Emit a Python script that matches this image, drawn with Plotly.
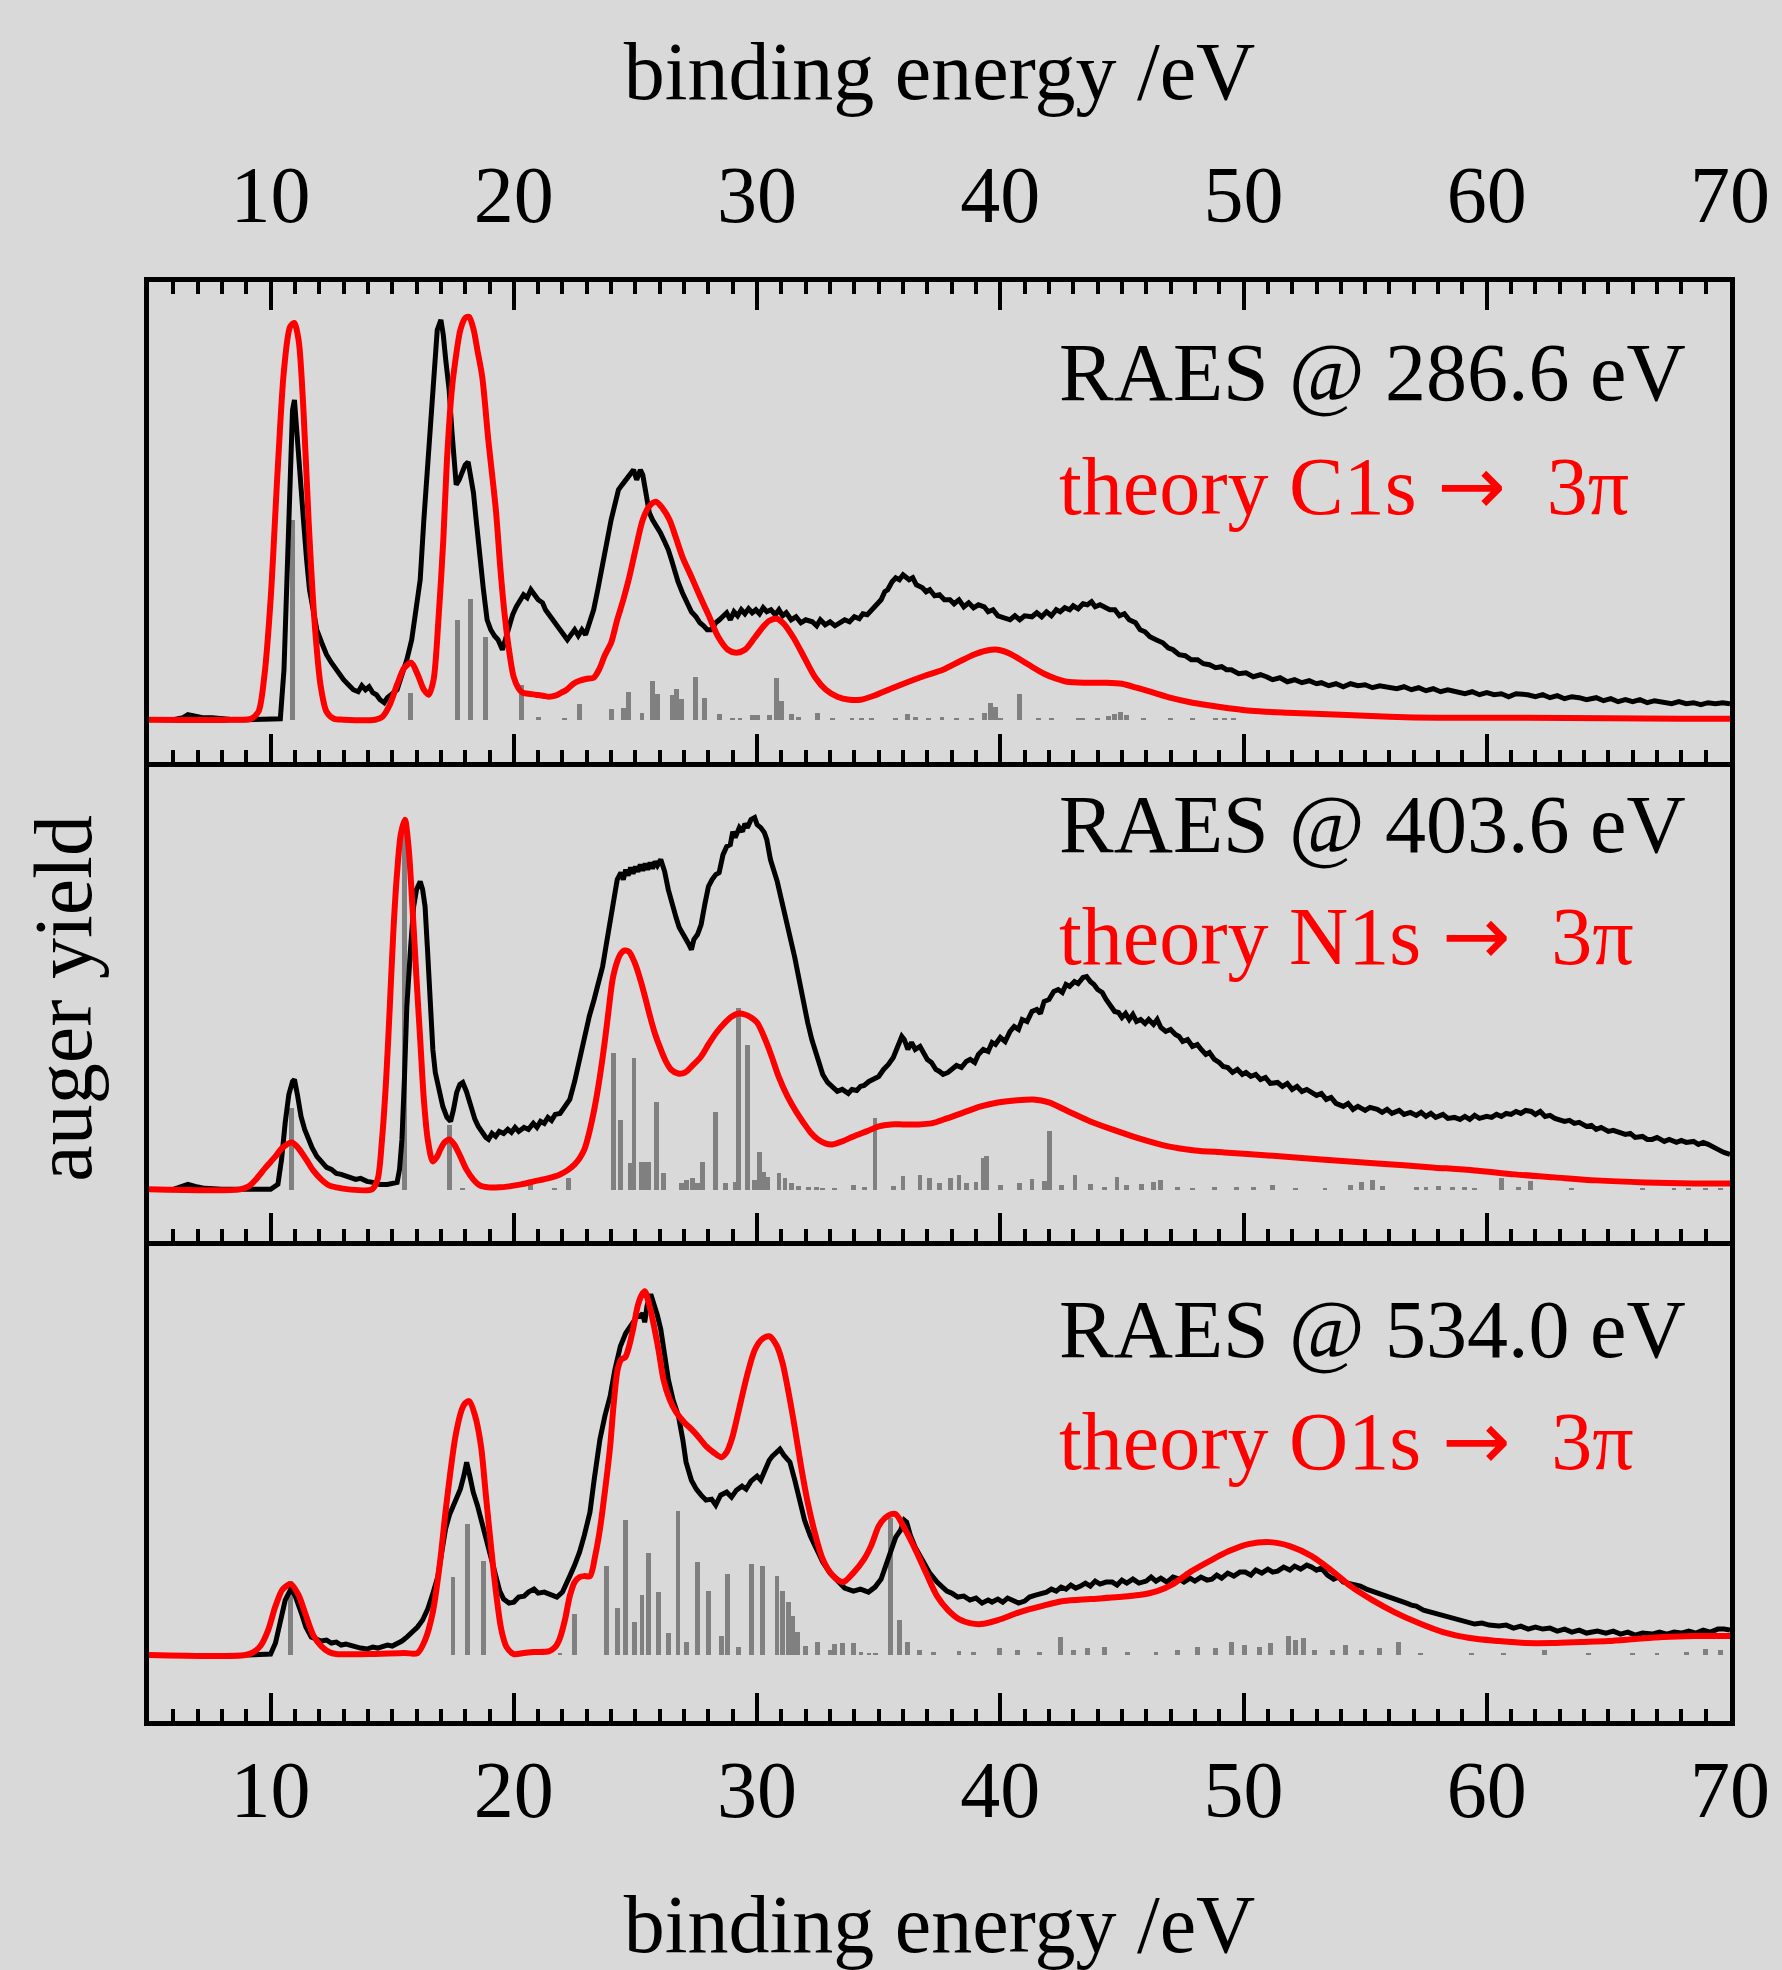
import plotly.graph_objects as go

# ---------------- data (binding energy in eV, intensity in arb. units) ----------------
# Experimental RAES spectra (black)
exp_C = [(6.0,0.0),(6.4,0.002),(6.6,0.005),(6.9,0.003),(7.2,0.002),(7.6,0.002),(8.0,0.001),(8.5,0.0),(9.0,0.0),(9.5,0.0),(10.0,0.0),(10.4,0.001),
 (10.55,0.05),(10.7,0.15),(10.8,0.24),(10.9,0.31),(10.98,0.32),(11.05,0.30),(11.15,0.27),(11.25,0.24),(11.35,0.20),(11.48,0.16),(11.6,0.13),
 (11.75,0.11),(11.9,0.09),(12.1,0.077),(12.3,0.065),(12.5,0.057),(12.7,0.05),(12.85,0.045),(13.0,0.04),(13.2,0.035),(13.4,0.03),(13.6,0.028),
 (13.75,0.034),(13.9,0.03),(14.05,0.033),(14.2,0.027),(14.35,0.025),(14.5,0.02),(14.67,0.017),(14.8,0.022),(15.0,0.026),(15.2,0.03),(15.4,0.045),
 (15.6,0.06),(15.8,0.08),(16.0,0.11),(16.15,0.14),(16.3,0.2),(16.42,0.24),(16.55,0.3),(16.7,0.35),(16.85,0.39),(17.0,0.40),(17.1,0.385),(17.2,0.36),
 (17.34,0.33),(17.45,0.29),(17.55,0.25),(17.63,0.235),(17.75,0.24),(17.88,0.248),(18.0,0.255),(18.12,0.258),(18.22,0.245),(18.34,0.227),(18.45,0.2),
 (18.6,0.16),(18.75,0.13),(18.9,0.10),(19.05,0.09),(19.2,0.084),(19.35,0.08),(19.53,0.07),(19.65,0.08),(19.8,0.09),(19.95,0.105),(20.1,0.113),
 (20.25,0.12),(20.4,0.125),(20.55,0.122),(20.7,0.13),(20.85,0.125),(21.0,0.12),(21.18,0.117),(21.3,0.11),(21.45,0.105),(21.6,0.1),(21.75,0.095),
 (21.9,0.088),(22.05,0.085),(22.2,0.08),(22.35,0.085),(22.5,0.09),(22.65,0.084),(22.8,0.09),(22.95,0.085),(23.1,0.095),(23.28,0.11),(23.45,0.13),
 (23.6,0.15),(23.83,0.18),(24.0,0.2),(24.15,0.215),(24.3,0.23),(24.45,0.235),(24.6,0.24),(24.75,0.245),(24.92,0.25),(25.05,0.24),(25.2,0.25),
 (25.3,0.245),(25.45,0.22),(25.57,0.207),(25.7,0.2),(25.85,0.195),(26.03,0.187),(26.2,0.178),(26.35,0.17),(26.48,0.16),(26.6,0.15),(26.75,0.138),
 (26.93,0.127),(27.1,0.118),(27.3,0.108),(27.49,0.103),(27.65,0.097),(27.8,0.094),(27.95,0.09),(28.11,0.09),(28.3,0.097),(28.45,0.1),(28.6,0.103),
 (28.75,0.107),(28.9,0.1),(29.05,0.108),(29.2,0.104),(29.35,0.11),(29.5,0.106),(29.65,0.111),(29.8,0.107),(29.95,0.11),(30.1,0.106),(30.25,0.112),
 (30.4,0.108),(30.57,0.11),(30.75,0.105),(30.9,0.11),(31.05,0.104),(31.2,0.107),(31.4,0.1),(31.6,0.103),(31.8,0.097),(32.0,0.1),(32.27,0.098),
 (32.45,0.094),(32.6,0.1),(32.8,0.095),(33.0,0.098),(33.2,0.094),(33.4,0.097),(33.6,0.1),(33.8,0.098),(34.0,0.103),(34.2,0.101),(34.35,0.106),
 (34.53,0.105),(34.7,0.11),(34.9,0.115),(35.1,0.12),(35.25,0.128),(35.37,0.13),(35.55,0.138),(35.7,0.142),(35.85,0.14),(36.0,0.145),(36.1,0.143),
 (36.25,0.14),(36.4,0.142),(36.55,0.135),(36.8,0.132),(36.95,0.128),(37.1,0.13),(37.3,0.124),(37.5,0.125),(37.7,0.12),(37.93,0.12),(38.1,0.116),
 (38.3,0.12),(38.5,0.113),(38.7,0.117),(38.9,0.112),(39.1,0.115),(39.34,0.113),(39.5,0.108),(39.7,0.11),(39.9,0.104),(40.19,0.102),(40.4,0.1),
 (40.6,0.104),(40.8,0.1),(41.0,0.104),(41.3,0.103),(41.5,0.107),(41.7,0.103),(41.9,0.108),(42.1,0.104),(42.3,0.11),(42.46,0.108),(42.65,0.112),
 (42.85,0.11),(43.0,0.114),(43.2,0.111),(43.4,0.116),(43.58,0.115),(43.75,0.118),(43.9,0.113),(44.1,0.115),(44.3,0.112),(44.5,0.11),(44.71,0.11),
 (44.9,0.104),(45.1,0.106),(45.3,0.1),(45.56,0.097),(45.75,0.09),(45.95,0.088),(46.15,0.083),(46.4,0.08),(46.68,0.077),(46.9,0.072),(47.1,0.07),
 (47.35,0.065),(47.6,0.064),(47.85,0.06),(48.11,0.06),(48.35,0.056),(48.6,0.055),(48.85,0.052),(49.1,0.053),(49.3,0.05),(49.5,0.05),(49.8,0.046),
 (50.1,0.047),(50.4,0.043),(50.7,0.045),(50.94,0.043),(51.2,0.04),(51.5,0.042),(51.8,0.038),(52.1,0.04),(52.4,0.037),(52.7,0.039),(53.0,0.036),
 (53.2,0.037),(53.5,0.034),(53.8,0.036),(54.1,0.033),(54.4,0.036),(54.7,0.034),(55.0,0.035),(55.3,0.032),(55.6,0.034),(56.0,0.033),(56.3,0.031),
 (56.6,0.033),(56.9,0.03),(57.2,0.032),(57.5,0.029),(57.8,0.031),(58.1,0.028),(58.4,0.03),(58.85,0.028),(59.1,0.026),(59.4,0.028),(59.7,0.025),
 (60.0,0.027),(60.3,0.025),(60.6,0.026),(60.9,0.023),(61.2,0.026),(61.68,0.025),(62.0,0.023),(62.3,0.025),(62.6,0.022),(62.9,0.024),(63.2,0.021),
 (63.5,0.023),(63.8,0.022),(64.1,0.02),(64.5,0.022),(64.8,0.019),(65.1,0.021),(65.4,0.018),(65.7,0.02),(66.0,0.018),(66.3,0.02),(66.6,0.017),
 (66.9,0.019),(67.3,0.018),(67.6,0.016),(67.9,0.018),(68.2,0.016),(68.5,0.017),(68.8,0.015),(69.1,0.017),(69.4,0.016),(69.7,0.017),(70.0,0.016)]

exp_N = [(6.0,0.0),(6.3,0.002),(6.6,0.005),(6.9,0.003),(7.3,0.001),(8.0,0.0),(9.0,0.0),(10.0,0.0),(10.3,0.005),(10.45,0.03),(10.6,0.067),
 (10.75,0.095),(10.9,0.108),(10.98,0.11),(11.1,0.095),(11.25,0.073),(11.4,0.06),(11.56,0.05),(11.7,0.042),(11.9,0.033),(12.1,0.028),(12.3,0.022),
 (12.5,0.02),(12.7,0.016),(12.9,0.015),(13.1,0.013),(13.3,0.012),(13.5,0.01),(13.7,0.011),(13.96,0.008),(14.2,0.007),(14.5,0.005),(14.8,0.005),
 (15.0,0.006),(15.2,0.007),(15.3,0.02),(15.4,0.05),(15.5,0.11),(15.6,0.183),(15.75,0.24),(15.88,0.283),(16.0,0.3),(16.15,0.308),(16.25,0.3),
 (16.35,0.283),(16.45,0.24),(16.56,0.183),(16.67,0.14),(16.77,0.117),(16.9,0.1),(17.08,0.083),(17.25,0.072),(17.4,0.068),(17.52,0.08),(17.65,0.097),
 (17.78,0.105),(17.9,0.107),(18.05,0.098),(18.23,0.083),(18.4,0.07),(18.54,0.063),(18.7,0.057),(18.85,0.052),(18.96,0.05),(19.1,0.056),(19.25,0.053),
 (19.4,0.058),(19.58,0.056),(19.75,0.06),(19.9,0.057),(20.05,0.062),(20.2,0.058),(20.42,0.062),(20.6,0.06),(20.8,0.066),(20.95,0.062),(21.1,0.068),
 (21.25,0.066),(21.4,0.072),(21.55,0.069),(21.7,0.075),(21.9,0.076),(22.1,0.082),(22.3,0.09),(22.5,0.108),(22.7,0.13),(22.9,0.15),(23.1,0.173),
 (23.3,0.19),(23.5,0.21),(23.65,0.223),(23.8,0.245),(23.96,0.267),(24.1,0.29),(24.25,0.31),(24.4,0.317),(24.5,0.31),(24.6,0.32),(24.7,0.314),
 (24.8,0.322),(24.9,0.316),(25.0,0.323),(25.1,0.318),(25.2,0.325),(25.3,0.319),(25.4,0.326),(25.5,0.32),(25.6,0.327),(25.7,0.321),(25.8,0.328),
 (25.9,0.324),(26.04,0.33),(26.2,0.318),(26.35,0.3),(26.5,0.285),(26.67,0.272),(26.8,0.262),(26.98,0.255),(27.1,0.25),(27.2,0.245),(27.3,0.24),
 (27.4,0.25),(27.55,0.255),(27.7,0.265),(27.85,0.285),(28.0,0.303),(28.15,0.31),(28.3,0.315),(28.44,0.317),(28.6,0.335),(28.75,0.343),(28.9,0.345),
 (29.0,0.358),(29.1,0.352),(29.27,0.362),(29.4,0.358),(29.5,0.366),(29.6,0.362),(29.75,0.37),(29.9,0.372),(30.0,0.365),(30.15,0.362),(30.3,0.357),
 (30.4,0.35),(30.55,0.33),(30.7,0.32),(30.83,0.308),(31.0,0.29),(31.1,0.28),(31.25,0.267),(31.4,0.25),(31.55,0.232),(31.67,0.217),(31.85,0.192),
 (32.0,0.175),(32.08,0.167),(32.25,0.15),(32.5,0.13),(32.7,0.115),(32.9,0.107),(33.1,0.102),(33.3,0.098),(33.5,0.1),(33.75,0.096),(33.9,0.1),
 (34.1,0.099),(34.25,0.103),(34.4,0.104),(34.6,0.108),(34.8,0.11),(35.0,0.113),(35.2,0.12),(35.4,0.125),(35.6,0.132),(35.8,0.143),(35.95,0.153),
 (36.05,0.15),(36.2,0.14),(36.35,0.147),(36.5,0.14),(36.7,0.143),(36.85,0.135),(37.0,0.13),(37.17,0.127),(37.35,0.12),(37.5,0.118),(37.65,0.115),
 (37.85,0.117),(38.0,0.12),(38.2,0.124),(38.4,0.122),(38.6,0.128),(38.76,0.13),(38.95,0.127),(39.1,0.135),(39.3,0.14),(39.5,0.138),(39.66,0.147),
 (39.8,0.145),(40.0,0.152),(40.2,0.148),(40.4,0.158),(40.57,0.163),(40.75,0.16),(40.9,0.17),(41.1,0.168),(41.3,0.178),(41.5,0.18),(41.65,0.176),
 (41.8,0.188),(42.0,0.19),(42.2,0.198),(42.38,0.2),(42.55,0.197),(42.7,0.205),(42.85,0.203),(43.05,0.208),(43.2,0.206),(43.4,0.212),(43.55,0.213),
 (43.7,0.208),(43.85,0.205),(44.0,0.2),(44.19,0.197),(44.35,0.19),(44.5,0.185),(44.7,0.178),(44.86,0.177),(45.0,0.172),(45.15,0.176),(45.3,0.17),
 (45.45,0.175),(45.6,0.168),(45.77,0.17),(45.95,0.166),(46.1,0.17),(46.3,0.165),(46.45,0.17),(46.6,0.162),(46.8,0.158),(47.0,0.16),(47.2,0.155),
 (47.35,0.153),(47.5,0.148),(47.7,0.15),(47.9,0.143),(48.1,0.145),(48.26,0.14),(48.45,0.135),(48.6,0.137),(48.8,0.13),(49.0,0.127),(49.16,0.123),
 (49.35,0.122),(49.55,0.117),(49.75,0.12),(49.95,0.115),(50.1,0.117),(50.3,0.113),(50.5,0.115),(50.7,0.11),(50.9,0.112),(51.1,0.106),(51.4,0.107),
 (51.6,0.103),(51.8,0.106),(52.0,0.1),(52.2,0.103),(52.4,0.098),(52.6,0.1),(52.8,0.097),(53.0,0.094),(53.2,0.096),(53.4,0.09),(53.6,0.092),
 (53.8,0.086),(54.1,0.083),(54.3,0.086),(54.5,0.08),(54.7,0.083),(55.0,0.079),(55.2,0.082),(55.5,0.08),(55.7,0.077),(55.9,0.08),(56.1,0.076),
 (56.4,0.079),(56.6,0.075),(56.86,0.077),(57.1,0.074),(57.3,0.077),(57.5,0.073),(57.7,0.076),(57.9,0.072),(58.2,0.075),(58.4,0.071),(58.67,0.072),
 (58.9,0.07),(59.1,0.073),(59.3,0.07),(59.5,0.074),(59.7,0.071),(60.0,0.073),(60.2,0.072),(60.4,0.075),(60.6,0.073),(60.8,0.076),(61.0,0.075),
 (61.2,0.078),(61.4,0.076),(61.6,0.079),(61.83,0.078),(62.0,0.075),(62.2,0.078),(62.4,0.073),(62.6,0.074),(62.8,0.071),(62.96,0.07),(63.2,0.068),
 (63.4,0.069),(63.6,0.066),(63.8,0.067),(64.1,0.063),(64.3,0.064),(64.5,0.06),(64.7,0.062),(65.0,0.058),(65.2,0.059),(65.45,0.057),(65.7,0.055),
 (65.9,0.056),(66.1,0.052),(66.4,0.053),(66.6,0.05),(66.8,0.05),(67.0,0.052),(67.3,0.048),(67.5,0.05),(67.8,0.047),(68.0,0.049),(68.2,0.047),
 (68.5,0.048),(68.7,0.045),(68.9,0.047),(69.1,0.045),(69.3,0.043),(69.5,0.04),(69.75,0.037),(70.0,0.035)]

exp_O = [(9.0,0.0),(9.5,0.0),(10.0,0.001),(10.2,0.012),(10.4,0.033),(10.6,0.055),(10.83,0.066),(11.0,0.06),(11.25,0.043),(11.45,0.028),
 (11.67,0.018),(11.85,0.016),(12.08,0.014),(12.3,0.015),(12.5,0.012),(12.7,0.013),(12.9,0.01),(13.1,0.011),(13.33,0.009),(13.5,0.008),(13.7,0.007),
 (13.96,0.006),(14.2,0.008),(14.4,0.007),(14.58,0.008),(14.8,0.01),(15.0,0.009),(15.2,0.011),(15.4,0.014),(15.6,0.018),(15.8,0.022),(16.04,0.028),
 (16.25,0.035),(16.46,0.046),(16.65,0.06),(16.88,0.079),(17.05,0.105),(17.19,0.126),(17.35,0.14),(17.5,0.149),(17.65,0.158),(17.8,0.166),
 (17.95,0.18),(18.06,0.193),(18.2,0.178),(18.33,0.163),(18.5,0.15),(18.65,0.136),(18.8,0.122),(18.96,0.109),(19.1,0.092),(19.27,0.076),(19.42,0.064),
 (19.58,0.056),(19.8,0.052),(20.0,0.053),(20.2,0.058),(20.42,0.059),(20.6,0.063),(20.83,0.066),(21.0,0.062),(21.25,0.063),(21.5,0.06),(21.77,0.058),
 (22.0,0.063),(22.15,0.07),(22.3,0.079),(22.5,0.09),(22.7,0.103),(22.9,0.12),(23.13,0.143),(23.3,0.175),(23.54,0.216),(23.75,0.24),(23.96,0.259),
 (24.15,0.285),(24.38,0.309),(24.6,0.322),(24.8,0.329),(25.0,0.335),(25.1,0.34),(25.2,0.339),(25.3,0.342),(25.38,0.333),(25.48,0.35),(25.63,0.361),
 (25.75,0.352),(25.9,0.34),(26.04,0.326),(26.2,0.3),(26.35,0.276),(26.55,0.255),(26.77,0.239),(26.95,0.215),(27.08,0.193),(27.3,0.175),(27.5,0.166),
 (27.7,0.16),(27.9,0.155),(28.13,0.156),(28.3,0.15),(28.5,0.16),(28.75,0.163),(28.95,0.158),(29.15,0.165),(29.38,0.169),(29.55,0.166),(29.75,0.174),
 (30.0,0.179),(30.15,0.175),(30.35,0.188),(30.5,0.195),(30.63,0.199),(30.8,0.203),(30.94,0.206),(31.1,0.2),(31.2,0.197),(31.35,0.193),(31.55,0.175),
 (31.77,0.153),(31.95,0.135),(32.19,0.119),(32.45,0.105),(32.7,0.093),(33.0,0.082),(33.33,0.073),(33.6,0.067),(33.96,0.064),(34.25,0.066),
 (34.58,0.063),(34.85,0.068),(35.1,0.076),(35.3,0.09),(35.52,0.109),(35.7,0.118),(35.9,0.125),(36.05,0.135),(36.15,0.133),(36.3,0.12),(36.5,0.108),
 (36.7,0.099),(36.9,0.09),(37.1,0.082),(37.4,0.073),(37.6,0.068),(37.8,0.064),(38.0,0.062),(38.25,0.058),(38.5,0.059),(38.75,0.055),(39.0,0.057),
 (39.25,0.052),(39.5,0.055),(39.66,0.053),(39.9,0.056),(40.1,0.053),(40.3,0.057),(40.5,0.055),(40.75,0.052),(41.0,0.054),(41.2,0.058),(41.45,0.06),
 (41.7,0.062),(41.9,0.063),(42.1,0.066),(42.3,0.064),(42.5,0.068),(42.7,0.066),(42.9,0.07),(43.1,0.067),(43.3,0.069),(43.5,0.072),(43.7,0.069),
 (43.9,0.074),(44.1,0.071),(44.35,0.073),(44.6,0.073),(44.8,0.07),(45.0,0.075),(45.2,0.072),(45.45,0.076),(45.7,0.072),(46.0,0.074),(46.2,0.078),
 (46.4,0.074),(46.6,0.077),(46.85,0.073),(47.1,0.078),(47.35,0.076),(47.55,0.073),(47.8,0.077),(48.0,0.074),(48.25,0.078),(48.5,0.075),(48.7,0.076),
 (48.9,0.08),(49.1,0.077),(49.35,0.082),(49.6,0.079),(49.85,0.083),(50.07,0.083),(50.3,0.08),(50.5,0.085),(50.75,0.082),(51.0,0.086),(51.2,0.083),
 (51.4,0.084),(51.65,0.088),(51.9,0.085),(52.1,0.089),(52.35,0.086),(52.6,0.09),(52.8,0.088),(53.0,0.085),(53.2,0.087),(53.45,0.08),(53.7,0.076),
 (53.9,0.078),(54.1,0.073),(54.35,0.072),(54.6,0.07),(54.8,0.069),(55.05,0.066),(55.3,0.064),(55.5,0.062),(55.75,0.06),(55.95,0.059),(56.2,0.056),
 (56.45,0.054),(56.7,0.052),(56.9,0.05),(57.1,0.049),(57.4,0.045),(57.7,0.043),(58.0,0.04),(58.3,0.038),(58.67,0.036),(58.9,0.035),(59.2,0.033),
 (59.5,0.031),(59.8,0.032),(60.1,0.03),(60.5,0.029),(60.8,0.03),(61.1,0.027),(61.4,0.029),(61.7,0.026),(62.0,0.028),(62.3,0.026),(62.6,0.027),
 (62.9,0.024),(63.2,0.026),(63.5,0.023),(63.8,0.025),(64.1,0.022),(64.55,0.024),(64.9,0.022),(65.2,0.024),(65.5,0.021),(65.8,0.023),(66.1,0.02),
 (66.4,0.022),(66.8,0.021),(67.1,0.023),(67.4,0.021),(67.7,0.023),(68.0,0.022),(68.3,0.024),(68.6,0.022),(68.9,0.025),(69.2,0.023),(69.5,0.026),
 (69.75,0.026),(70.0,0.025)]

# Theory (red, broadened)
th_C = [(5.0,0.0),(8.5,0.0),(9.2,0.001),(9.5,0.008),(9.74,0.043),(10.0,0.12),(10.29,0.25),(10.55,0.35),(10.8,0.393),(10.97,0.397),(11.15,0.38),
 (11.35,0.31),(11.56,0.2),(11.8,0.1),(12.05,0.035),(12.3,0.008),(12.6,0.001),(13.0,0.0),(14.3,0.0),(14.6,0.003),(14.9,0.015),(15.2,0.035),(15.5,0.052),
 (15.78,0.057),(16.05,0.045),(16.3,0.03),(16.5,0.025),(16.7,0.04),(16.9,0.1),(17.1,0.18),(17.25,0.26),(17.45,0.33),(17.6,0.36),(17.8,0.39),
 (18.0,0.402),(18.16,0.403),(18.35,0.39),(18.5,0.37),(18.7,0.343),(18.95,0.28),(19.26,0.21),(19.45,0.15),(19.6,0.11),(19.8,0.07),(19.99,0.043),
 (20.2,0.031),(20.35,0.027),(20.6,0.026),(20.9,0.025),(21.2,0.024),(21.45,0.023),(21.7,0.024),(21.95,0.027),(22.17,0.03),(22.45,0.036),(22.7,0.039),
 (23.0,0.041),(23.28,0.042),(23.5,0.05),(23.75,0.065),(24.0,0.077),(24.25,0.1),(24.5,0.12),(24.75,0.143),(25.0,0.17),(25.3,0.2),(25.55,0.213),
 (25.84,0.218),(26.1,0.212),(26.4,0.2),(26.65,0.183),(26.93,0.163),(27.3,0.143),(27.66,0.123),(28.0,0.105),(28.4,0.083),(28.8,0.07),(29.14,0.067),
 (29.5,0.07),(29.9,0.082),(30.25,0.093),(30.5,0.099),(30.8,0.101),(31.1,0.096),(31.5,0.082),(31.99,0.06),(32.4,0.042),(32.83,0.03),(33.3,0.023),
 (33.8,0.02),(34.25,0.02),(34.8,0.024),(35.5,0.031),(36.23,0.038),(36.9,0.044),(37.64,0.05),(38.3,0.058),(38.9,0.065),(39.4,0.069),(39.9,0.07),
 (40.4,0.066),(40.9,0.059),(41.3,0.053),(41.8,0.046),(42.3,0.041),(42.74,0.038),(43.5,0.037),(44.3,0.037),(45.0,0.036),(45.6,0.032),(46.3,0.027),
 (46.97,0.022),(47.9,0.017),(48.96,0.013),(50.3,0.009),(51.8,0.007),(54.0,0.005),(56.0,0.003),(58.0,0.002),(61.7,0.002),(65.0,0.0015),(68.0,0.001),
 (70.0,0.001)]

th_N = [(5.0,0.0),(8.75,0.0),(9.1,0.003),(9.4,0.01),(9.8,0.022),(10.2,0.033),(10.5,0.042),(10.875,0.047),(11.15,0.041),(11.46,0.03),(11.75,0.019),
 (12.08,0.01),(12.4,0.004),(12.7,0.002),(13.2,0.0),(14.17,0.0),(14.4,0.01),(14.58,0.05),(14.75,0.11),(14.9,0.183),(15.05,0.26),(15.2,0.317),
 (15.35,0.355),(15.52,0.37),(15.68,0.34),(15.83,0.283),(16.0,0.21),(16.15,0.15),(16.3,0.09),(16.46,0.05),(16.67,0.028),(16.85,0.033),(16.98,0.04),
 (17.15,0.047),(17.35,0.05),(17.55,0.045),(17.8,0.033),(18.05,0.02),(18.33,0.01),(18.6,0.004),(18.96,0.002),(19.4,0.002),(19.8,0.003),(20.3,0.005),
 (20.83,0.008),(21.4,0.011),(21.9,0.015),(22.2,0.019),(22.5,0.025),(22.7,0.031),(22.9,0.04),(23.1,0.057),(23.33,0.083),(23.55,0.115),(23.75,0.15),
 (23.9,0.18),(24.06,0.21),(24.25,0.228),(24.4,0.236),(24.55,0.239),(24.73,0.238),(24.95,0.228),(25.2,0.21),(25.4,0.192),(25.6,0.173),(25.8,0.156),
 (26.04,0.14),(26.25,0.128),(26.46,0.12),(26.75,0.116),(27.04,0.117),(27.35,0.124),(27.7,0.133),(28.0,0.145),(28.33,0.157),(28.65,0.166),
 (28.96,0.173),(29.25,0.176),(29.5,0.175),(29.75,0.172),(30.0,0.167),(30.3,0.152),(30.6,0.133),(30.9,0.112),(31.25,0.093),(31.6,0.078),(31.9,0.067),
 (32.2,0.057),(32.5,0.05),(32.8,0.046),(33.1,0.045),(33.5,0.048),(33.96,0.053),(34.5,0.058),(35.0,0.063),(35.5,0.065),(36.0,0.065),(36.6,0.065),
 (37.17,0.066),(37.8,0.071),(38.5,0.077),(39.2,0.083),(39.9,0.087),(40.6,0.089),(41.36,0.09),(42.0,0.087),(42.8,0.078),(43.7,0.068),(44.6,0.06),
 (45.7,0.051),(46.9,0.043),(48.0,0.039),(49.2,0.037),(51.0,0.034),(53.2,0.03),(55.5,0.026),(57.76,0.022),(59.5,0.019),(61.15,0.015),(62.8,0.012),
 (64.5,0.009),(66.5,0.007),(68.5,0.006),(70.0,0.006)]

th_O = [(5.0,0.0),(8.96,0.0),(9.3,0.003),(9.58,0.009),(9.9,0.025),(10.2,0.049),(10.5,0.066),(10.83,0.071),(11.15,0.06),(11.46,0.039),(11.75,0.02),
 (12.08,0.009),(12.4,0.003),(12.7,0.001),(14.0,0.001),(15.5,0.002),(16.04,0.002),(16.35,0.015),(16.67,0.043),(16.95,0.09),(17.19,0.143),(17.4,0.185),
 (17.6,0.219),(17.85,0.245),(18.0,0.252),(18.17,0.254),(18.4,0.24),(18.65,0.209),(18.85,0.16),(19.06,0.109),(19.27,0.062),(19.48,0.026),(19.7,0.008),
 (20.0,0.001),(20.4,0.002),(20.83,0.003),(21.46,0.004),(21.7,0.008),(21.88,0.016),(22.1,0.035),(22.3,0.059),(22.5,0.073),(22.7,0.078),(22.9,0.079),
 (23.13,0.079),(23.35,0.1),(23.54,0.126),(23.75,0.165),(23.96,0.209),(24.1,0.25),(24.27,0.286),(24.42,0.296),(24.58,0.298),(24.75,0.31),(24.9,0.326),
 (25.1,0.35),(25.25,0.36),(25.38,0.364),(25.55,0.352),(25.73,0.333),(25.95,0.305),(26.15,0.276),(26.4,0.256),(26.67,0.243),(27.0,0.233),(27.3,0.226),
 (27.6,0.218),(27.9,0.209),(28.2,0.203),(28.54,0.198),(28.75,0.203),(28.96,0.216),(29.25,0.245),(29.58,0.279),(29.9,0.305),(30.2,0.316),(30.5,0.319),
 (30.8,0.31),(31.04,0.293),(31.3,0.262),(31.56,0.226),(31.8,0.19),(32.08,0.153),(32.4,0.12),(32.7,0.096),(33.1,0.08),(33.54,0.073),(33.95,0.082),
 (34.4,0.096),(34.7,0.11),(35.0,0.129),(35.25,0.137),(35.52,0.141),(35.7,0.141),(36.1,0.125),(36.5,0.106),(36.95,0.082),(37.4,0.059),(37.85,0.045),
 (38.3,0.036),(38.75,0.032),(39.2,0.031),(39.9,0.035),(40.8,0.043),(41.7,0.049),(42.6,0.054),(43.7,0.056),(44.86,0.058),(45.7,0.06),(46.45,0.064),
 (47.1,0.071),(47.8,0.083),(48.6,0.094),(49.4,0.104),(50.2,0.111),(51.1,0.113),(51.9,0.109),(52.8,0.099),(53.6,0.085),(54.4,0.069),(55.3,0.055),
 (56.2,0.043),(57.2,0.032),(58.2,0.023),(59.3,0.017),(60.5,0.014),(61.6,0.012),(62.7,0.012),(63.9,0.013),(65.0,0.014),(66.1,0.016),(67.26,0.018),
 (68.5,0.019),(69.75,0.019),(70.0,0.019)]

# Theory stick spectra (grey)
st_C = [(10.9,0.2),(15.76,0.027),(17.67,0.1),(18.22,0.121),(18.84,0.083),(20.3,0.035),(21.0,0.003),(22.1,0.001),(22.7,0.016),(24.0,0.011),
 (24.5,0.012),(24.73,0.028),(25.27,0.007),(25.7,0.039),(25.9,0.026),(26.5,0.025),(26.7,0.031),(26.9,0.021),(27.47,0.043),(27.84,0.022),(28.46,0.006),
 (29.0,0.001),(29.3,0.002),(29.8,0.005),(30.0,0.005),(30.5,0.005),(30.79,0.042),(31.0,0.019),(31.43,0.006),(31.7,0.003),(32.48,0.007),(33.1,0.001),
 (33.9,0.001),(34.3,0.001),(34.7,0.001),(35.7,0.001),(36.2,0.006),(36.5,0.003),(37.06,0.002),(37.6,0.003),(38.2,0.002),(38.8,0.001),(39.36,0.007),
 (39.6,0.017),(39.8,0.013),(40.0,0.001),(40.8,0.026),(41.56,0.001),(42.1,0.001),(43.2,0.002),(43.4,0.002),(44.0,0.002),(44.46,0.004),(44.7,0.006),
 (44.95,0.008),(45.2,0.005),(45.9,0.001),(47.0,0.001),(47.9,0.001),(48.85,0.001),(49.2,0.001),(49.6,0.001)]

st_N = [(10.875,0.082),(15.52,0.37),(17.35,0.065),(17.9,0.001),(20.7,0.007),(21.67,0.002),(22.25,0.012),(24.1,0.137),(24.38,0.07),(24.8,0.027),
 (24.94,0.132),(25.25,0.028),(25.4,0.028),(25.55,0.028),(25.87,0.088),(26.15,0.017),(26.9,0.007),(27.1,0.01),(27.33,0.012),(27.54,0.007),(27.75,0.028),
 (28.3,0.078),(28.7,0.007),(29.1,0.008),(29.23,0.182),(29.6,0.145),(29.9,0.01),(30.1,0.038),(30.25,0.018),(30.45,0.013),(30.9,0.017),(31.15,0.012),
 (31.4,0.007),(31.7,0.004),(32.1,0.003),(32.46,0.003),(32.7,0.002),(33.2,0.002),(33.96,0.005),(34.4,0.003),(34.85,0.072),(35.6,0.004),(36.0,0.014),
 (36.7,0.015),(37.1,0.012),(37.5,0.007),(37.96,0.012),(38.3,0.015),(38.6,0.007),(39.0,0.008),(39.3,0.032),(39.44,0.034),(40.0,0.005),(40.8,0.007),
 (41.3,0.011),(41.8,0.009),(42.02,0.059),(42.5,0.005),(43.07,0.015),(43.7,0.006),(44.3,0.003),(44.8,0.013),(45.2,0.005),(45.8,0.006),(46.3,0.008),
 (46.6,0.01),(47.3,0.003),(47.9,0.002),(48.8,0.003),(49.7,0.003),(50.4,0.003),(51.2,0.005),(52.15,0.002),(53.35,0.002),(54.4,0.005),(54.85,0.008),
 (55.3,0.01),(55.7,0.004),(57.1,0.003),(57.5,0.003),(58.0,0.004),(58.6,0.003),(59.07,0.003),(59.5,0.002),(60.6,0.012),(61.3,0.003),(61.8,0.009),
 (63.5,0.001),(66.4,0.001),(67.7,0.001),(68.3,0.001),(69.0,0.001),(69.6,0.001)]

st_O = [(10.83,0.074),(17.5,0.078),(18.08,0.131),(18.75,0.094),(21.9,0.001),(22.5,0.041),(23.8,0.089),(24.27,0.047),(24.6,0.135),(24.95,0.033),
 (25.27,0.06),(25.55,0.102),(25.95,0.063),(26.37,0.022),(26.75,0.144),(27.1,0.013),(27.55,0.093),(28.0,0.064),(28.52,0.019),(28.8,0.081),(29.25,0.008),
 (29.77,0.091),(30.22,0.089),(30.82,0.079),(31.06,0.064),(31.28,0.053),(31.47,0.039),(31.65,0.023),(32.0,0.009),(32.5,0.013),(33.0,0.005),(33.2,0.011),
 (33.5,0.012),(33.97,0.012),(34.27,0.003),(34.6,0.002),(34.87,0.002),(35.5,0.137),(35.87,0.035),(36.2,0.013),(36.67,0.005),(37.27,0.003),(38.3,0.004),
 (38.9,0.003),(39.98,0.007),(40.7,0.005),(41.6,0.003),(42.47,0.018),(43.0,0.005),(43.6,0.007),(44.3,0.008),(45.24,0.003),(46.4,0.003),(47.3,0.005),
 (48.1,0.008),(48.85,0.007),(49.5,0.013),(50.05,0.01),(50.65,0.008),(51.1,0.012),(51.85,0.019),(52.15,0.015),(52.45,0.017),(52.9,0.005),(53.65,0.005),
 (54.2,0.01),(54.86,0.005),(55.6,0.007),(56.36,0.013),(57.26,0.002),(59.37,0.002),(60.7,0.002),(62.37,0.005),(64.2,0.002),(66.0,0.002),(67.0,0.002),
 (68.2,0.003),(69.0,0.006),(69.6,0.005)]

ARROW = '<span style="font-family:\'DejaVu Sans\'">\u2192</span>'
labels_exp = ["RAES @ 286.6 eV", "RAES @ 403.6 eV", "RAES @ 534.0 eV"]
labels_th = ["theory C1s " + ARROW + "\u00a0 3\u03c0", "theory N1s " + ARROW + "\u00a0 3\u03c0",
             "theory O1s " + ARROW + "\u00a0 3\u03c0"]
y_ranges = [[-0.042, 0.438], [-0.052, 0.428], [-0.066, 0.414]]
x_range = [5, 70]
tick_vals = [10, 20, 30, 40, 50, 60, 70]

# ---------------- figure ----------------
W, H = 1782, 1970
ML, MR, MT, MB = 149, 49, 282, 248
FONT = "Liberation Serif, Times New Roman, serif"
BG = "#d9d9d9"
TXT = 82

fig = go.Figure()
panels = [(exp_C, th_C, st_C), (exp_N, th_N, st_N), (exp_O, th_O, st_O)]
for i, (ex, th, st) in enumerate(panels):
    xa = "x" if i == 0 else f"x{i+1}"
    ya = "y" if i == 0 else f"y{i+1}"
    fig.add_trace(go.Scatter(x=[p[0] for p in ex], y=[p[1] for p in ex], mode="lines",
                             line=dict(color="black", width=5), xaxis=xa, yaxis=ya, showlegend=False))
    fig.add_trace(go.Scatter(x=[p[0] for p in th], y=[p[1] for p in th], mode="lines",
                             line=dict(color="#ff0000", width=6, shape="spline", smoothing=0.8),
                             xaxis=xa, yaxis=ya, showlegend=False))
    fig.add_trace(go.Bar(x=[p[0] for p in st], y=[p[1] for p in st], width=0.2,
                         marker=dict(color="#808080", line=dict(width=0)),
                         xaxis=xa, yaxis=ya, showlegend=False))

axis_common = dict(range=x_range, showline=True, linecolor="black", linewidth=5,
                   ticks="inside", ticklen=28, tickwidth=4, tickcolor="black",
                   tickmode="array", tickvals=tick_vals, showgrid=False, zeroline=False,
                   minor=dict(ticks="inside", ticklen=12, tickwidth=4, tickcolor="black",
                              dtick=1, tick0=0, showgrid=False),
                   tickfont=dict(family=FONT, size=80, color="black"))

layout = dict(width=W, height=H, margin=dict(l=ML, r=MR, t=MT, b=MB),
              paper_bgcolor=BG, plot_bgcolor="rgba(0,0,0,0)", barmode="overlay", bargap=0,
              font=dict(family=FONT, color="black"))

domains = [[2/3, 1.0], [1/3, 2/3], [0.0, 1/3]]
for i in range(3):
    xk = "xaxis" if i == 0 else f"xaxis{i+1}"
    yk = "yaxis" if i == 0 else f"yaxis{i+1}"
    xa = dict(axis_common)
    xa["anchor"] = "y" if i == 0 else f"y{i+1}"
    if i == 0:
        xa.update(side="top", mirror="ticks", showticklabels=True, ticklabelstandoff=23,
                  title=dict(text="binding energy /eV", font=dict(family=FONT, size=TXT), standoff=26))
    elif i == 1:
        xa.update(mirror=False, showticklabels=False, matches="x")
    else:
        xa.update(mirror=False, showticklabels=True, matches="x", ticklabelstandoff=-5,
                  title=dict(text="binding energy /eV", font=dict(family=FONT, size=TXT), standoff=67))
    layout[xk] = xa
    layout[yk] = dict(domain=domains[i], anchor="x" if i == 0 else f"x{i+1}", range=y_ranges[i],
                      showline=True, linecolor="black", linewidth=5, mirror=True,
                      ticks="", showticklabels=False, showgrid=False, zeroline=False)

fig.update_layout(**layout)

# panel labels (pixel positions converted to paper coords)
exp_y_px = [373, 825, 1330]
th_y_px = [486, 936, 1441]
plot_h = H - MT - MB
def py(px):
    return (H - MB - px) / plot_h
x_lab = (1059 - ML) / (W - ML - MR)
for i in range(3):
    fig.add_annotation(text=labels_exp[i], xref="paper", yref="paper", x=x_lab, y=py(exp_y_px[i]),
                       xanchor="left", yanchor="middle", showarrow=False,
                       font=dict(family=FONT, size=TXT, color="black"))
    fig.add_annotation(text=labels_th[i], xref="paper", yref="paper", x=x_lab, y=py(th_y_px[i]),
                       xanchor="left", yanchor="middle", showarrow=False,
                       font=dict(family=FONT, size=TXT, color="#ff0000"))

fig.add_annotation(text="auger yield", xref="paper", yref="paper", x=(63 - ML) / (W - ML - MR), y=py(999),
                   xanchor="center", yanchor="middle", textangle=-90, showarrow=False,
                   font=dict(family=FONT, size=TXT, color="black"))

fig.write_html("out.html", config={"displayModeBar": False},
               post_script="document.body.style.margin='0px';")
